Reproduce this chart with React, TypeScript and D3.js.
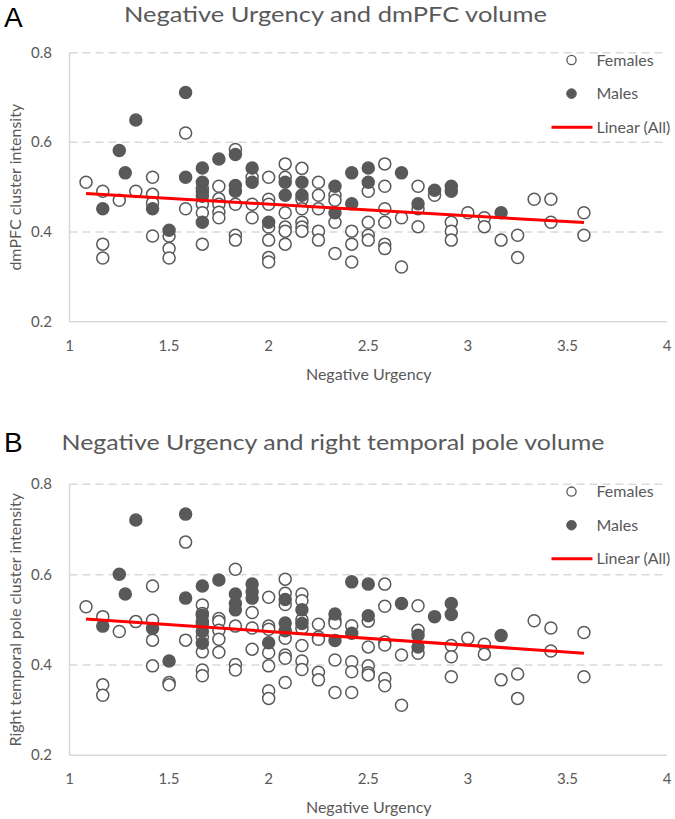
import React from 'react';
import * as d3 from 'd3';

// ---------- DATA ----------
const xTicks = [1, 1.5, 2, 2.5, 3, 3.5, 4];
const yTicks = [0.2, 0.4, 0.6, 0.8];

type P = [number, number];

const femalesA: P[] = [
  [1.083, 0.511],
  [1.167, 0.491], [1.167, 0.373], [1.167, 0.342],
  [1.25, 0.471],
  [1.333, 0.491],
  [1.417, 0.522], [1.417, 0.484], [1.417, 0.465], [1.417, 0.391],
  [1.5, 0.391], [1.5, 0.363], [1.5, 0.342],
  [1.583, 0.621], [1.583, 0.452],
  [1.667, 0.497], [1.667, 0.462], [1.667, 0.443], [1.667, 0.373],
  [1.75, 0.502], [1.75, 0.474], [1.75, 0.462], [1.75, 0.444], [1.75, 0.432],
  [1.833, 0.584], [1.833, 0.462], [1.833, 0.393], [1.833, 0.382],
  [1.917, 0.522], [1.917, 0.462], [1.917, 0.432],
  [2.0, 0.522], [2.0, 0.473], [2.0, 0.462], [2.0, 0.411], [2.0, 0.382], [2.0, 0.343], [2.0, 0.333],
  [2.083, 0.552], [2.083, 0.522], [2.083, 0.443], [2.083, 0.411], [2.083, 0.402], [2.083, 0.373],
  [2.167, 0.542], [2.167, 0.473], [2.167, 0.452], [2.167, 0.422], [2.167, 0.411], [2.167, 0.402],
  [2.25, 0.511], [2.25, 0.482], [2.25, 0.452], [2.25, 0.402], [2.25, 0.382],
  [2.333, 0.482], [2.333, 0.471], [2.333, 0.422], [2.333, 0.352],
  [2.417, 0.402], [2.417, 0.373], [2.417, 0.333],
  [2.5, 0.491], [2.5, 0.422], [2.5, 0.393], [2.5, 0.382],
  [2.583, 0.552], [2.583, 0.502], [2.583, 0.452], [2.583, 0.422], [2.583, 0.373], [2.583, 0.363],
  [2.667, 0.432], [2.667, 0.322],
  [2.75, 0.502], [2.75, 0.452], [2.75, 0.412],
  [2.833, 0.482],
  [2.917, 0.422], [2.917, 0.402], [2.917, 0.382],
  [3.0, 0.443],
  [3.083, 0.432], [3.083, 0.412],
  [3.167, 0.382],
  [3.25, 0.393], [3.25, 0.343],
  [3.333, 0.473],
  [3.417, 0.473], [3.417, 0.422],
  [3.583, 0.443], [3.583, 0.393],
];

const malesA: P[] = [
  [1.167, 0.452],
  [1.25, 0.582],
  [1.28, 0.532],
  [1.333, 0.65],
  [1.417, 0.452],
  [1.5, 0.404],
  [1.583, 0.711], [1.583, 0.522],
  [1.667, 0.543], [1.667, 0.511], [1.667, 0.49], [1.667, 0.48], [1.667, 0.422],
  [1.75, 0.563],
  [1.833, 0.573], [1.833, 0.504], [1.833, 0.491],
  [1.917, 0.543], [1.917, 0.511],
  [2.0, 0.422],
  [2.083, 0.511], [2.083, 0.482],
  [2.167, 0.511], [2.167, 0.482],
  [2.333, 0.502], [2.333, 0.443],
  [2.417, 0.532], [2.417, 0.463],
  [2.5, 0.543], [2.5, 0.511],
  [2.667, 0.532],
  [2.75, 0.463],
  [2.833, 0.493],
  [2.917, 0.502], [2.917, 0.491],
  [3.167, 0.443],
];

const trendA: P[] = [[1.083, 0.486], [3.583, 0.421]];

const femalesB: P[] = [
  [1.083, 0.529],
  [1.167, 0.507], [1.167, 0.356], [1.167, 0.333],
  [1.25, 0.474],
  [1.333, 0.496],
  [1.417, 0.575], [1.417, 0.499], [1.417, 0.455], [1.417, 0.398],
  [1.5, 0.361], [1.5, 0.356],
  [1.583, 0.672], [1.583, 0.455],
  [1.667, 0.533], [1.667, 0.514], [1.667, 0.49], [1.667, 0.462], [1.667, 0.429], [1.667, 0.389], [1.667, 0.376],
  [1.75, 0.503], [1.75, 0.496], [1.75, 0.477], [1.75, 0.457], [1.75, 0.428],
  [1.833, 0.612], [1.833, 0.486], [1.833, 0.401], [1.833, 0.389],
  [1.917, 0.516], [1.917, 0.482], [1.917, 0.435],
  [2.0, 0.55], [2.0, 0.486], [2.0, 0.479], [2.0, 0.427], [2.0, 0.398], [2.0, 0.343], [2.0, 0.326],
  [2.083, 0.59], [2.083, 0.559], [2.083, 0.534], [2.083, 0.459], [2.083, 0.422], [2.083, 0.415], [2.083, 0.361],
  [2.167, 0.557], [2.167, 0.542], [2.167, 0.5], [2.167, 0.481], [2.167, 0.443], [2.167, 0.409], [2.167, 0.39],
  [2.25, 0.49], [2.25, 0.462], [2.25, 0.457], [2.25, 0.384], [2.25, 0.367],
  [2.333, 0.499], [2.333, 0.493], [2.333, 0.411], [2.333, 0.339],
  [2.417, 0.487], [2.417, 0.407], [2.417, 0.385], [2.417, 0.339],
  [2.5, 0.497], [2.5, 0.44], [2.5, 0.398], [2.5, 0.383], [2.5, 0.378],
  [2.583, 0.579], [2.583, 0.53], [2.583, 0.451], [2.583, 0.444], [2.583, 0.37], [2.583, 0.354],
  [2.667, 0.422], [2.667, 0.311],
  [2.75, 0.531], [2.75, 0.477], [2.75, 0.426],
  [2.917, 0.443], [2.917, 0.418], [2.917, 0.374],
  [3.0, 0.459],
  [3.083, 0.446], [3.083, 0.424],
  [3.167, 0.367],
  [3.25, 0.38], [3.25, 0.326],
  [3.333, 0.498],
  [3.417, 0.482], [3.417, 0.431],
  [3.583, 0.472], [3.583, 0.374],
];

const malesB: P[] = [
  [1.167, 0.486],
  [1.25, 0.601],
  [1.28, 0.557],
  [1.333, 0.721],
  [1.417, 0.481],
  [1.5, 0.409],
  [1.583, 0.734], [1.583, 0.548],
  [1.667, 0.575], [1.667, 0.51], [1.667, 0.496], [1.667, 0.474], [1.667, 0.448],
  [1.75, 0.588],
  [1.833, 0.557], [1.833, 0.536], [1.833, 0.522],
  [1.917, 0.579], [1.917, 0.562], [1.917, 0.548],
  [2.0, 0.449],
  [2.083, 0.545], [2.083, 0.493], [2.083, 0.476],
  [2.167, 0.522], [2.167, 0.492],
  [2.333, 0.513], [2.333, 0.454],
  [2.417, 0.584], [2.417, 0.47],
  [2.5, 0.579], [2.5, 0.509],
  [2.667, 0.536],
  [2.75, 0.466], [2.75, 0.44],
  [2.833, 0.507],
  [2.917, 0.536], [2.917, 0.512],
  [3.167, 0.465],
];

const trendB: P[] = [[1.083, 0.502], [3.583, 0.426]];

const legendLabels = ['Females', 'Males', 'Linear (All)'];

// ---------- STYLE ----------
const FONT = 'Lato, "Open Sans", sans-serif';
const TEXT = '#595959';
const MARK = '#595959';
const GRID = '#d9d9d9';

interface PanelProps {
  letter: string;
  letterY: number;
  title: string;
  titleX: number;
  titleY: number;
  titleW: number;
  yTitle: string;
  top: number; // y pixel for 0.8
  bottom: number; // y pixel for 0.2
  females: P[];
  males: P[];
  trend: P[];
}

function Panel(props: PanelProps) {
  const { letter, letterY, title, titleX, titleY, titleW, yTitle, top, bottom, females, males, trend } = props;
  const x = d3.scaleLinear().domain([1, 4]).range([69.5, 667]);
  const y = d3.scaleLinear().domain([0.2, 0.8]).range([bottom, top]);
  const line = d3.line<P>().x(d => x(d[0])).y(d => y(d[1]));
  const r = 6;
  const legX = 571.5;
  const legY0 = top + 7.3;
  const legStep = 33.6;

  return (
    <g>
      <text x={4} y={letterY} fontFamily='"Liberation Sans", Arial, sans-serif' fontSize={28} fill="#000">{letter}</text>
      <text x={titleX} y={titleY} fontFamily={FONT} fontSize={22} fill={TEXT}
        textLength={titleW} lengthAdjust="spacingAndGlyphs">{title}</text>
      {/* grid */}
      {yTicks.filter(t => t > 0.2).map(t => (
        <line key={t} x1={x(1)} x2={x(4)} y1={y(t)} y2={y(t)} stroke={GRID} strokeWidth={1.5} strokeDasharray="8,5" />
      ))}
      <line x1={x(1)} x2={x(4)} y1={y(0.2)} y2={y(0.2)} stroke={GRID} strokeWidth={1.5} />
      <line x1={x(1)} x2={x(1)} y1={y(0.8)} y2={y(0.2)} stroke={GRID} strokeWidth={1.5} />
      {/* y tick labels */}
      {yTicks.map(t => (
        <text key={t} x={52} y={y(t) + 5} textAnchor="end" fontFamily={FONT} fontSize={15} fill={TEXT}>{d3.format('.1f')(t)}</text>
      ))}
      {/* x tick labels */}
      {xTicks.map(t => (
        <text key={t} x={x(t)} y={bottom + 29} textAnchor="middle" fontFamily={FONT} fontSize={15} fill={TEXT}>{String(t)}</text>
      ))}
      <text x={x(2.5) + 0.5} y={bottom + 58} textAnchor="middle" fontFamily={FONT} fontSize={16} fill={TEXT}>Negative Urgency</text>
      <text transform={`translate(21,${(top + bottom) / 2}) rotate(-90)`} textAnchor="middle" fontFamily={FONT} fontSize={16} fill={TEXT}>{yTitle}</text>
      {/* marks */}
      {females.map((d, i) => (
        <circle key={'f' + i} cx={x(d[0])} cy={y(d[1])} r={r} fill="#fff" stroke={MARK} strokeWidth={1.5} />
      ))}
      {males.map((d, i) => (
        <circle key={'m' + i} cx={x(d[0])} cy={y(d[1])} r={r} fill={MARK} stroke={MARK} strokeWidth={1.5} />
      ))}
      <path d={line(trend) || ''} stroke="#ff0000" strokeWidth={3} fill="none" />
      {/* legend */}
      <circle cx={legX} cy={legY0} r={4.6} fill="#fff" stroke={MARK} strokeWidth={1.3} />
      <circle cx={legX} cy={legY0 + legStep} r={4.8} fill={MARK} stroke={MARK} strokeWidth={1} />
      <line x1={legX - 20} x2={legX + 21} y1={legY0 + 2 * legStep} y2={legY0 + 2 * legStep} stroke="#ff0000" strokeWidth={3} />
      {legendLabels.map((l, i) => (
        <text key={l} x={596.5} y={legY0 + i * legStep + 5.5} fontFamily={FONT} fontSize={16} fill={TEXT}>{l}</text>
      ))}
    </g>
  );
}

export default function App() {
  return (
    <svg width={675} height={819} style={{ position: 'absolute', left: 0, top: 0, background: '#fff' }}>
      <rect width={675} height={819} fill="#fff" />
      <Panel letter="A" letterY={27} title="Negative Urgency and dmPFC volume" titleX={124} titleY={22} titleW={423} yTitle="dmPFC cluster intensity"
        top={52.7} bottom={321.7} females={femalesA} males={malesA} trend={trendA} />
      <Panel letter="B" letterY={451.5} title="Negative Urgency and right temporal pole volume" titleX={61.5} titleY={450} titleW={543} yTitle="Right temporal pole cluster intensity"
        top={484.3} bottom={755.3} females={femalesB} males={malesB} trend={trendB} />
    </svg>
  );
}
